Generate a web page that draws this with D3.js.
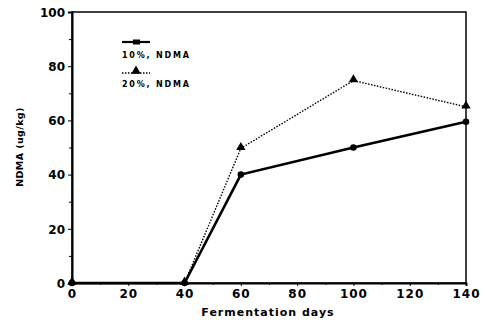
<!DOCTYPE html>
<html>
<head>
<meta charset="utf-8">
<script src="https://cdn.jsdelivr.net/npm/d3@7"></script>
<style>
  body { margin: 0; background: #fff; }
  text { font-family: "DejaVu Sans", Arial, sans-serif; font-weight: bold; fill: #000; }
</style>
</head>
<body>
<div id="chart"></div>
<script>
// data
const days = [0, 40, 60, 100, 140];
const ndma10 = [0, 0, 40, 50, 59.5];
const ndma20 = [0, 0, 49.7, 74.7, 65];
const xTicks = [0, 20, 40, 60, 80, 100, 120, 140];
const yTicks = [0, 20, 40, 60, 80, 100];

let margin = { top: 12, left: 72, right: 17, bottom: 37 },
  width = 483 - margin.left - margin.right,
  height = 320 - margin.top - margin.bottom;

let svg = d3.select('#chart')
  .append('svg')
  .attr('width', 483)
  .attr('height', 320);

let g = svg.append('g')
  .attr('transform', `translate(${margin.left},${margin.top})`);

const x = d3.scaleLinear().domain([0, 140]).range([0, width]);
const y = d3.scaleLinear().domain([0, 100]).range([height, 0]);

// frame
g.append('rect')
  .attr('width', width).attr('height', height)
  .attr('fill', 'none').attr('stroke', '#000').attr('stroke-width', 1.5);

// minor ticks
g.append('g')
  .attr('transform', `translate(0,${height})`)
  .call(d3.axisBottom(x).tickValues(d3.range(10, 140, 20)).tickSize(2).tickFormat(''))
  .call(a => a.select('.domain').remove());
g.append('g')
  .call(d3.axisLeft(y).tickValues(d3.range(10, 100, 20)).tickSize(3).tickFormat(''))
  .call(a => a.select('.domain').remove());

// x axis
g.append('g')
  .attr('transform', `translate(0,${height})`)
  .call(d3.axisBottom(x).tickValues(xTicks).tickSize(3).tickPadding(3))
  .call(a => a.select('.domain').attr('stroke-width', 2))
  .selectAll('text')
  .style('font-size', '12px')
  .attr('letter-spacing', '1');

// y axis
g.append('g')
  .call(d3.axisLeft(y).tickValues(yTicks).tickSize(4).tickPadding(3))
  .call(a => a.select('.domain').attr('stroke-width', 2))
  .selectAll('text')
  .style('font-size', '12px')
  .attr('dy', '0.36em');

const line = d3.line().x((d, i) => x(days[i])).y(d => y(d));

// 20% series - dotted, triangles
g.append('path')
  .datum(ndma20)
  .attr('d', line)
  .attr('fill', 'none')
  .attr('stroke', '#000')
  .attr('stroke-width', 1.4)
  .attr('stroke-dasharray', '1.5,1.5');

const tri = d3.symbol().type(d3.symbolTriangle).size(38);
g.selectAll('.tri')
  .data(ndma20)
  .join('path')
  .attr('class', 'tri')
  .attr('transform', (d, i) => `translate(${x(days[i])},${y(d) - 1})`)
  .attr('d', tri)
  .attr('fill', '#000');

// 10% series - solid, dots
g.append('path')
  .datum(ndma10)
  .attr('d', line)
  .attr('fill', 'none')
  .attr('stroke', '#000')
  .attr('stroke-width', 2.6);

g.selectAll('.dot')
  .data(ndma10)
  .join('circle')
  .attr('class', 'dot')
  .attr('cx', (d, i) => x(days[i]))
  .attr('cy', d => y(d))
  .attr('r', 3.3)
  .attr('fill', '#000');

// legend
svg.append('line')
  .attr('x1', 122).attr('x2', 150).attr('y1', 42).attr('y2', 42)
  .attr('stroke', '#000').attr('stroke-width', 2.2);
svg.append('rect')
  .attr('x', 133).attr('y', 39.5).attr('width', 7).attr('height', 5).attr('fill', '#000');
svg.append('text')
  .attr('x', 122).attr('y', 58)
  .style('font-size', '8px').attr('letter-spacing', '1.8')
  .text('10%, NDMA');

svg.append('line')
  .attr('x1', 122).attr('x2', 150).attr('y1', 73).attr('y2', 73)
  .attr('stroke', '#000').attr('stroke-width', 1.3)
  .attr('stroke-dasharray', '1.5,1.5');
svg.append('path')
  .attr('transform', 'translate(136,71)')
  .attr('d', tri)
  .attr('fill', '#000');
svg.append('text')
  .attr('x', 122).attr('y', 87)
  .style('font-size', '8px').attr('letter-spacing', '1.8')
  .text('20%, NDMA');

// x label
svg.append('text')
  .attr('text-anchor', 'middle')
  .attr('x', 268)
  .attr('y', 316)
  .style('font-size', '11px')
  .attr('letter-spacing', '1')
  .text('Fermentation days');

// y label
svg.append('text')
  .attr('text-anchor', 'middle')
  .attr('transform', 'translate(23,147) rotate(-90)')
  .style('font-size', '9.5px')
  .attr('letter-spacing', '0.4')
  .text('NDMA (ug/kg)');
</script>
</body>
</html>
